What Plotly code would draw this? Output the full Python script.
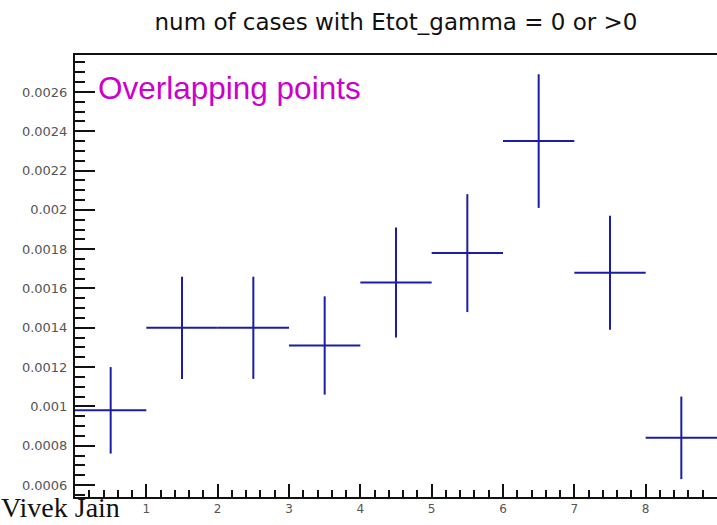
import plotly.graph_objects as go

# Data
bin_centers = [0.5, 1.5, 2.5, 3.5, 4.5, 5.5, 6.5, 7.5, 8.5]
bin_halfwidth = [0.5] * 9
values = [0.00098, 0.00140, 0.00140, 0.00131, 0.00163, 0.00178, 0.00235, 0.00168, 0.00084]
errors = [0.00022, 0.00026, 0.00026, 0.00025, 0.00028, 0.00030, 0.00034, 0.00029, 0.00021]

y_tickvals = [0.0006, 0.0008, 0.0010, 0.0012, 0.0014, 0.0016, 0.0018, 0.0020, 0.0022, 0.0024, 0.0026]
y_ticktext = ["0.0006", "0.0008", "0.001", "0.0012", "0.0014", "0.0016", "0.0018", "0.002", "0.0022", "0.0024", "0.0026"]
x_tickvals = [1, 2, 3, 4, 5, 6, 7, 8, 9]

title_text = "num of cases with Etot_gamma = 0 or >0"
label_text = "Overlapping points"
author_text = "Vivek Jain"

BLUE = "#1c1ca6"

fig = go.Figure()
fig.add_trace(go.Scatter(
    x=bin_centers, y=values, mode="markers",
    marker=dict(size=1, color=BLUE),
    error_x=dict(type="data", array=bin_halfwidth, symmetric=True, width=0, thickness=2, color=BLUE),
    error_y=dict(type="data", array=errors, symmetric=True, width=0, thickness=2, color=BLUE),
    showlegend=False, cliponaxis=True,
))

fig.update_layout(
    width=717, height=525,
    margin=dict(l=75, r=0, t=55, b=28),
    paper_bgcolor="white", plot_bgcolor="white",
    title=dict(text=title_text, x=0.5, xref="paper", xanchor="center",
               y=1 - 22 / 525, yref="container", yanchor="middle",
               font=dict(family="DejaVu Sans", size=23, color="#111")),
    xaxis=dict(range=[0, 9], tickmode="array", tickvals=x_tickvals, ticks="inside", ticklen=13, tickwidth=2,
               tickcolor="#111", showline=True, linecolor="#111", linewidth=2, mirror=True,
               showgrid=False, zeroline=False,
               tickfont=dict(family="DejaVu Sans", size=12, color="#555"),
               minor=dict(tickmode="linear", tick0=0, dtick=0.2, ticks="inside", ticklen=7,
                          tickwidth=2, tickcolor="#111", showgrid=False)),
    yaxis=dict(range=[0.000539, 0.002788], tickmode="array", tickvals=y_tickvals, ticktext=y_ticktext,
               ticks="inside", ticklen=20, tickwidth=2, tickcolor="#111",
               showline=True, linecolor="#111", linewidth=2, mirror=False,
               showgrid=False, zeroline=False, ticklabelstandoff=3,
               tickfont=dict(family="DejaVu Sans", size=13, color="#555"),
               minor=dict(tickmode="linear", tick0=0.0006, dtick=0.00005, ticks="inside", ticklen=10,
                          tickwidth=2, tickcolor="#111", showgrid=False)),
    annotations=[
        dict(text=label_text, xref="paper", yref="paper", x=(96 - 75) / 642, y=(497 - 68) / 442,
             xanchor="left", yanchor="top", showarrow=False,
             font=dict(family="Liberation Sans", size=31.5, color="#cc00cc")),
        dict(text=author_text, xref="paper", yref="paper", x=(-1 - 75) / 642, y=(497 - 525) / 442,
             xanchor="left", yanchor="bottom", showarrow=False,
             font=dict(family="Liberation Serif", size=28, color="#111")),
    ],
)

fig.write_html("out.html")
